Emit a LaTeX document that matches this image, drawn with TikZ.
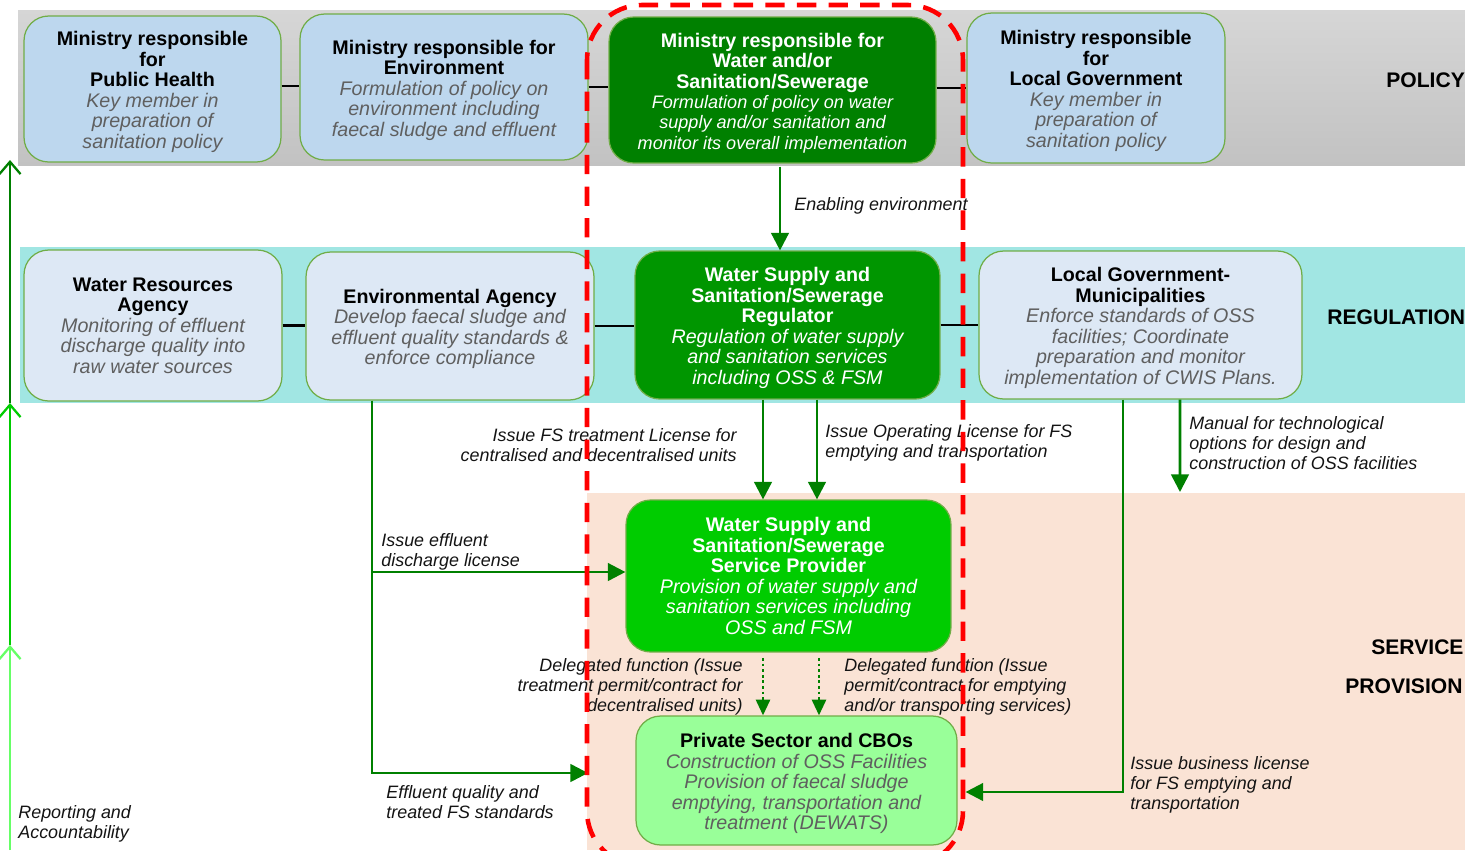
\documentclass[tikz,border=0pt]{standalone}
\usepackage{fontspec}
\setmainfont{Liberation Sans}
\usetikzlibrary{arrows.meta}

\definecolor{poltop}{RGB}{214,214,214}
\definecolor{polbot}{RGB}{194,194,194}
\definecolor{regband}{RGB}{161,230,227}
\definecolor{peach}{RGB}{250,227,213}
\definecolor{pblue}{RGB}{189,215,238}
\definecolor{rblue}{RGB}{221,232,245}
\definecolor{edgegreen}{RGB}{112,173,71}
\definecolor{wmgreen}{RGB}{0,128,0}
\definecolor{reggreen}{RGB}{0,150,0}
\definecolor{spgreen}{RGB}{0,204,0}
\definecolor{psgreen}{RGB}{153,255,153}
\definecolor{arrgreen}{RGB}{0,128,0}
\definecolor{midgreen}{RGB}{0,204,0}
\definecolor{lightgreen}{RGB}{102,255,102}
\definecolor{descgray}{RGB}{95,95,95}
\definecolor{labelink}{RGB}{20,20,20}

\newcommand\boxfont{\fontsize{11.2}{11.65}\selectfont}
\newcommand\lblfont{\fontsize{10.2}{11.4}\selectfont\itshape}
\newcommand\bandfont{\fontsize{12}{14}\selectfont\bfseries}
\newcommand\dsc[1]{{\itshape\color{descgray}#1}}
\newcommand\wdsc[1]{{\itshape #1}}
\newcommand\ndsc[1]{{\fontsize{10.3}{10.7}\selectfont\itshape #1}}
% extra head room on a first line, to set the text block a little lower
\newcommand\lift{\rule{0pt}{11.5pt}}

\begin{document}
\begin{tikzpicture}[x=0.02cm,y=-0.02cm,
  box/.style={rounded corners=14pt, draw=edgegreen, line width=0.7pt,
    align=center, inner sep=2pt, font=\boxfont},
  link/.style={draw=black, line width=1.6pt},
  arr/.style={draw=arrgreen, line width=1.5pt,
    -{Triangle[length=10pt,width=10pt]}, color=arrgreen},
  darr/.style={draw=arrgreen, line width=1.5pt, dash pattern=on 1.6pt off 1.6pt,
    -{Triangle[length=9pt,width=8pt]}, color=arrgreen},
  rep/.style={line width=1.4pt, -{Straight Barb[length=7pt,width=12pt,line width=1.3pt]}},
  lbl/.style={font=\lblfont, text=labelink, inner sep=0pt},
  band/.style={font=\bandfont, text=black, inner sep=0pt, anchor=west}]

\useasboundingbox (0,0) rectangle (1465,850);
\fill[white] (0,0) rectangle (1465,850);

% layer bands
\shade[top color=poltop, bottom color=polbot] (18,10) rectangle (1465,165);
\fill[regband] (20,247) rectangle (1465,403);
\fill[peach] (587,493) rectangle (1465,850);

% policy level
\node[box, fill=pblue, minimum width=5.14cm, minimum height=2.92cm] (ph) at (152.5,89)
  {\lift\textbf{Ministry responsible}\\\textbf{for}\\\textbf{Public Health}\\\dsc{Key member in}\\\dsc{preparation of}\\\dsc{sanitation policy}};
\node[box, fill=pblue, minimum width=5.76cm, minimum height=2.92cm] (env) at (444,87)
  {\lift\textbf{Ministry responsible for}\\\textbf{Environment}\\\dsc{Formulation of policy on}\\\dsc{environment including}\\\dsc{faecal sludge and effluent}};
\node[box, fill=wmgreen, text=white, minimum width=6.54cm, minimum height=2.92cm] (wm) at (772.5,90)
  {\lift\textbf{Ministry responsible for}\\\textbf{Water and/or}\\\textbf{Sanitation/Sewerage}\\\ndsc{Formulation of policy on water}\\\ndsc{supply and/or sanitation and}\\\ndsc{monitor its overall implementation}};
\node[box, fill=pblue, minimum width=5.16cm, minimum height=3.0cm] (lgm) at (1096,88)
  {\lift\textbf{Ministry responsible}\\\textbf{for}\\\textbf{Local Government}\\\dsc{Key member in}\\\dsc{preparation of}\\\dsc{sanitation policy}};

% regulation level
\node[box, fill=rblue, minimum width=5.16cm, minimum height=3.02cm] (wra) at (153,325.5)
  {\textbf{Water Resources}\\\textbf{Agency}\\\dsc{Monitoring of effluent}\\\dsc{discharge quality into}\\\dsc{raw water sources}};
\node[box, fill=rblue, minimum width=5.76cm, minimum height=2.96cm] (ea) at (450,326)
  {\lift\textbf{Environmental Agency}\\\dsc{Develop faecal sludge and}\\\dsc{effluent quality standards \&}\\\dsc{enforce compliance}};
\node[box, fill=reggreen, text=white, minimum width=6.1cm, minimum height=2.96cm] (reg) at (787.5,325)
  {\lift\textbf{Water Supply and}\\\textbf{Sanitation/Sewerage}\\\textbf{Regulator}\\\wdsc{Regulation of water supply}\\\wdsc{and sanitation services}\\\wdsc{including OSS \& FSM}};
\node[box, fill=rblue, minimum width=6.46cm, minimum height=2.96cm] (lgmun) at (1140.5,325)
  {\lift\textbf{Local Government-}\\\textbf{Municipalities}\\\dsc{Enforce standards of OSS}\\\dsc{facilities; Coordinate}\\\dsc{preparation and monitor}\\\dsc{implementation of CWIS Plans.}};

% service provision level
\node[box, fill=spgreen, text=white, minimum width=6.5cm, minimum height=3.04cm] (sp) at (788.5,576)
  {\textbf{Water Supply and}\\\textbf{Sanitation/Sewerage}\\\textbf{Service Provider}\\\wdsc{Provision of water supply and}\\\wdsc{sanitation services including}\\\wdsc{OSS and FSM}};
\node[box, fill=psgreen, minimum width=6.42cm, minimum height=2.58cm] (ps) at (796.5,780.5)
  {\lift\textbf{Private Sector and CBOs}\\\dsc{Construction of OSS Facilities}\\\dsc{Provision of faecal sludge}\\\dsc{emptying, transportation and}\\\dsc{treatment (DEWATS)}};

% links between peers
\draw[link] ([yshift=0.06cm]ph.east) -- ([yshift=0.06cm]ph.east -| env.west);
\draw[link] (env.east) -- (env.east -| wm.west);
\draw[link] ([yshift=0.04cm]wm.east) -- ([yshift=0.04cm]wm.east -| lgm.west);
\draw[link] (wra.east) -- (wra.east -| ea.west);
\draw[link] (ea.east) -- (ea.east -| reg.west);
\draw[link] (reg.east) -- (reg.east -| lgmun.west);

% policy -> regulation
\draw[arr] ([xshift=0.15cm,yshift=-0.06cm]wm.south) -- ([xshift=0.15cm]wm.south |- reg.north);
\node[lbl, anchor=west] (lenab) at (794,206) {Enabling environment};

% regulator -> service provider
\draw[arr] ([xshift=-0.49cm]reg.south) -- ([xshift=-0.49cm]reg.south |- sp.north);
\draw[arr] ([xshift=0.59cm]reg.south) -- ([xshift=0.59cm]reg.south |- sp.north);
\node[lbl, anchor=east, align=right] (ltreat) at (737,445)
  {Issue FS treatment License for\\centralised and decentralised units};
\node[lbl, anchor=west, align=left] (loper) at (825,443)
  {Issue Operating License for FS\\emptying and transportation};

% environmental agency branches
\coordinate (eaS) at ([xshift=-1.56cm]ea.south);
\coordinate (effEnd) at (588,773);
\draw[arr] (eaS) |- ([yshift=0.08cm]sp.west);
\draw[arr] (eaS) |- (effEnd);
\node[lbl, anchor=west, align=left] (ldis) at (381,552)
  {Issue effluent\\discharge license};
\node[lbl, anchor=west, align=left] (lstd) at (386,802)
  {Effluent quality and\\treated FS standards};

% municipalities branches
\draw[arr] ([xshift=-0.35cm]lgmun.south) |- ([yshift=-0.23cm,xshift=0.16cm]ps.east);
\coordinate (manEnd) at (1180,492);
\draw[arr] ([xshift=0.79cm]lgmun.south) -- (manEnd);
\node[lbl, anchor=west, align=left] (lman) at (1189,443)
  {Manual for technological\\options for design and\\construction of OSS facilities};
\node[lbl, anchor=west, align=left] (lbus) at (1130,785)
  {Issue business license\\for FS emptying and\\transportation};

% delegated functions
\draw[darr, shorten <=3pt] ([xshift=-0.51cm]sp.south) -- ([xshift=-0.51cm]sp.south |- ps.north);
\draw[darr, shorten <=3pt] ([xshift=0.61cm]sp.south) -- ([xshift=0.61cm]sp.south |- ps.north);
\node[lbl, anchor=east, align=right] (ldel1) at (743,687)
  {Delegated function (Issue\\treatment permit/contract for\\decentralised units)};
\node[lbl, anchor=west, align=left] (ldel2) at (844,687)
  {Delegated function (Issue\\permit/contract for emptying\\and/or transporting services)};

% reporting and accountability
\coordinate (r0) at (10,850);
\coordinate (r1) at (10,645);
\coordinate (r2) at (10,403);
\coordinate (r3) at (10,160);
\draw[rep, draw=lightgreen, color=lightgreen] (r0) -- (r1);
\draw[rep, draw=midgreen, color=midgreen] (r1) -- (r2);
\draw[rep, draw=arrgreen, color=arrgreen] (r2) -- (r3);
\node[lbl, anchor=west, align=left] (lrep) at (18,824)
  {Reporting and\\Accountability};

% level names
\node[band] (tpol) at (1386,80) {POLICY};
\node[band] (treg) at (1327,317) {REGULATION};
\node[band] (tser) at (1371,647) {SERVICE};
\node[band] (tpro) at (1345,686) {PROVISION};

% water and sanitation chain outline
\draw[red, line width=2.6pt, dash pattern=on 11pt off 7pt, rounded corners=1.1cm]
  (587,5) rectangle (963,866);

\end{tikzpicture}
\end{document}
